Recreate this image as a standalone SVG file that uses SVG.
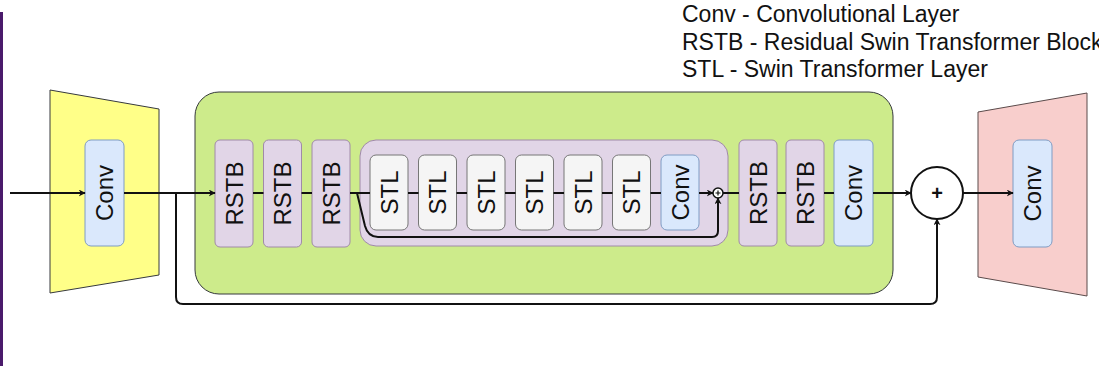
<svg xmlns="http://www.w3.org/2000/svg" width="1099" height="374" viewBox="0 0 1099 374">
<defs>
<style>
.t{font-family:"Liberation Sans",Arial,sans-serif;font-size:24px;fill:#111;}
.lg{font-family:"Liberation Sans",Arial,sans-serif;font-size:23px;fill:#111;}
.rstb{fill:#e1d5e7;stroke:#a08aa8;stroke-width:1;}
.stl{fill:#f5f5f5;stroke:#777;stroke-width:1;}
.conv{fill:#dae8fc;stroke:#7f9cc4;stroke-width:1;}
.ln{fill:none;stroke:#111;stroke-width:2;}
</style>
<marker id="ah" viewBox="0 0 10 10" refX="9" refY="5" markerWidth="7" markerHeight="7" orient="auto" markerUnits="userSpaceOnUse">
<path d="M0,0 L10,5 L0,10 L3,5 Z" fill="#111"/>
</marker>
<marker id="ahs" viewBox="0 0 10 10" refX="9" refY="5" markerWidth="7" markerHeight="7" orient="auto" markerUnits="userSpaceOnUse">
<path d="M0,0 L10,5 L0,10 L3,5 Z" fill="#111"/>
</marker>
</defs>
<rect x="0" y="0" width="1099" height="374" fill="#fff"/>
<line x1="1.5" y1="12" x2="1.5" y2="366" stroke="#4a1a6b" stroke-width="3"/>

<g id="legend">
<text class="lg" x="682" y="22">Conv - Convolutional Layer</text>
<text class="lg" x="682" y="49.5">RSTB - Residual Swin Transformer Block</text>
<text class="lg" x="682" y="77">STL - Swin Transformer Layer</text>
</g>

<g id="encoder">
<polygon points="50,90 159,109 159,275 50,293" fill="#ffff88" stroke="#36393d" stroke-width="1"/>
<rect class="conv" x="85" y="140" width="39" height="106" rx="6"/>
<text class="t" transform="translate(104.5,193) rotate(-90)" text-anchor="middle" dy="0.36em">Conv</text>
</g>

<g id="main-block">
<rect x="195" y="92" width="698" height="202" rx="24" fill="#cdeb8b" stroke="#36393d" stroke-width="1"/>
</g>

<g id="rstb1"><rect class="rstb" x="215" y="140" width="38" height="107" rx="5"/><text class="t" transform="translate(234,193.5) rotate(-90)" text-anchor="middle" dy="0.36em">RSTB</text></g>
<g id="rstb2"><rect class="rstb" x="263.5" y="140" width="38" height="107" rx="5"/><text class="t" transform="translate(282.5,193.5) rotate(-90)" text-anchor="middle" dy="0.36em">RSTB</text></g>
<g id="rstb3"><rect class="rstb" x="312" y="140" width="38" height="107" rx="5"/><text class="t" transform="translate(331,193.5) rotate(-90)" text-anchor="middle" dy="0.36em">RSTB</text></g>

<g id="rstb-detail">
<rect x="360" y="140" width="368" height="106" rx="16" fill="#e1d5e7" stroke="#a08aa8" stroke-width="1"/>
</g>

<g id="stl1"><rect class="stl" x="370" y="155" width="38" height="75" rx="6"/><text class="t" transform="translate(389,192.5) rotate(-90)" text-anchor="middle" dy="0.36em">STL</text></g>
<g id="stl2"><rect class="stl" x="418.5" y="155" width="38" height="75" rx="6"/><text class="t" transform="translate(437.5,192.5) rotate(-90)" text-anchor="middle" dy="0.36em">STL</text></g>
<g id="stl3"><rect class="stl" x="467" y="155" width="38" height="75" rx="6"/><text class="t" transform="translate(486,192.5) rotate(-90)" text-anchor="middle" dy="0.36em">STL</text></g>
<g id="stl4"><rect class="stl" x="515.5" y="155" width="38" height="75" rx="6"/><text class="t" transform="translate(534.5,192.5) rotate(-90)" text-anchor="middle" dy="0.36em">STL</text></g>
<g id="stl5"><rect class="stl" x="564" y="155" width="38" height="75" rx="6"/><text class="t" transform="translate(583,192.5) rotate(-90)" text-anchor="middle" dy="0.36em">STL</text></g>
<g id="stl6"><rect class="stl" x="612.5" y="155" width="38" height="75" rx="6"/><text class="t" transform="translate(631.5,192.5) rotate(-90)" text-anchor="middle" dy="0.36em">STL</text></g>
<g id="conv-inner"><rect class="conv" x="661" y="155" width="38" height="75" rx="6"/><text class="t" transform="translate(680,192.5) rotate(-90)" text-anchor="middle" dy="0.36em">Conv</text></g>

<g id="sum-small">
<circle cx="718" cy="193" r="5" fill="#fff" stroke="#111" stroke-width="1.5"/>
<path d="M715.5,193 H720.5 M718,190.5 V195.5" stroke="#111" stroke-width="1.2"/>
</g>

<g id="rstb4"><rect class="rstb" x="739" y="140" width="38" height="106" rx="5"/><text class="t" transform="translate(758,193) rotate(-90)" text-anchor="middle" dy="0.36em">RSTB</text></g>
<g id="rstb5"><rect class="rstb" x="786" y="140" width="38" height="106" rx="5"/><text class="t" transform="translate(805,193) rotate(-90)" text-anchor="middle" dy="0.36em">RSTB</text></g>
<g id="conv-main"><rect class="conv" x="834" y="140" width="39" height="106" rx="5"/><text class="t" transform="translate(853.5,193) rotate(-90)" text-anchor="middle" dy="0.36em">Conv</text></g>

<g id="sum-big">
<circle cx="937" cy="193" r="26" fill="#fff" stroke="#111" stroke-width="2"/>
<text x="937" y="193" text-anchor="middle" dy="0.36em" style="font-family:'Liberation Sans',Arial,sans-serif;font-size:20px;font-weight:bold;fill:#111;">+</text>
</g>

<g id="decoder">
<polygon points="978,112 1087,93 1087,296 978,277" fill="#f8cecc" stroke="#5a4a4a" stroke-width="1"/>
<rect class="conv" x="1013" y="140" width="39" height="107" rx="6"/>
<text class="t" transform="translate(1032.5,193.5) rotate(-90)" text-anchor="middle" dy="0.36em">Conv</text>
</g>

<g id="connectors">
<line class="ln" x1="10" y1="193" x2="85" y2="193" marker-end="url(#ah)"/>
<line class="ln" x1="124" y1="193" x2="215" y2="193" marker-end="url(#ah)"/>
<line class="ln" x1="253" y1="193" x2="263.5" y2="193"/>
<line class="ln" x1="301.5" y1="193" x2="312" y2="193"/>
<line class="ln" x1="350" y1="193" x2="370" y2="193"/>
<line class="ln" x1="408" y1="193" x2="418.5" y2="193"/>
<line class="ln" x1="456.5" y1="193" x2="467" y2="193"/>
<line class="ln" x1="505" y1="193" x2="515.5" y2="193"/>
<line class="ln" x1="553.5" y1="193" x2="564" y2="193"/>
<line class="ln" x1="602" y1="193" x2="612.5" y2="193"/>
<line class="ln" x1="650.5" y1="193" x2="661" y2="193"/>
<line class="ln" x1="699" y1="193" x2="713" y2="193" marker-end="url(#ahs)"/>
<path class="ln" d="M357,193 L365,226 Q368,237 378,237 L712,237 Q718,237 718,231 L718,198" marker-end="url(#ahs)"/>
<line class="ln" x1="723" y1="193" x2="739" y2="193"/>
<line class="ln" x1="777" y1="193" x2="786" y2="193"/>
<line class="ln" x1="824" y1="193" x2="834" y2="193"/>
<line class="ln" x1="873" y1="193" x2="911" y2="193" marker-end="url(#ah)"/>
<line class="ln" x1="963" y1="193" x2="1013" y2="193" marker-end="url(#ah)"/>
<path class="ln" d="M176,193 L176,297 Q176,304 183,304 L930,304 Q937,304 937,297 L937,219" marker-end="url(#ah)"/>
</g>
</svg>
